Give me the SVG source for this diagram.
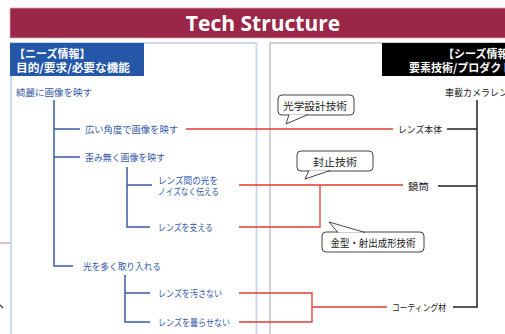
<svg xmlns="http://www.w3.org/2000/svg" width="505" height="334" viewBox="0 0 505 334">
<style>
text{font-family:"Noto Sans CJK JP","Noto Sans",sans-serif;}
.need{font-size:9.5px;fill:#3558A8;dominant-baseline:central;}
.seed{font-size:9.5px;fill:#222;dominant-baseline:central;}
.hdr{font-size:11px;font-weight:bold;fill:#fff;}
.tree{fill:none;stroke:#3A5BA6;stroke-width:1.5;}
.red{fill:none;stroke:#E53935;stroke-width:1.3;}
.blk{fill:none;stroke:#222;stroke-width:1.5;}
.call rect,.call path{fill:#fff;stroke:#444;stroke-width:1;}
.call text{font-size:10.5px;fill:#222;dominant-baseline:central;text-anchor:middle;}
</style>
<rect width="505" height="334" fill="#fff"/>
<g id="title">
<rect x="10" y="8" width="500" height="30" fill="#9A2748" stroke="#D9A9B6" stroke-width="0.8"/>
<text x="263" y="31" text-anchor="middle" style="font-family:'Open Sans','Noto Sans',sans-serif;font-size:21px;font-weight:bold;fill:#fff;">Tech Structure</text>
</g>
<g id="needs-panel">
<rect x="11" y="43" width="245.5" height="300" fill="none" stroke="#C9D8EE" stroke-width="2"/>
<rect x="10" y="43" width="134" height="33" fill="#2457A8"/>
<text class="hdr" x="14" y="58">【ニーズ情報】</text>
<text class="hdr" x="16" y="72" textLength="114" lengthAdjust="spacingAndGlyphs">目的/要求/必要な機能</text>
</g>
<g id="seeds-panel">
<rect x="270" y="43" width="250" height="300" fill="none" stroke="#D2D2D2" stroke-width="2"/>
<rect x="382" y="43" width="130" height="33" fill="#000"/>
<text class="hdr" x="443" y="58">【シーズ情報】</text>
<text class="hdr" x="409" y="72">要素技術/プロダクト</text>
</g>
<g id="connectors">
<path class="tree" d="M54 100V266H73M54 129H80M54 157H80M127 167V227H150M127 185H152M125 275V322H150M125 293H150"/>
<path class="red" d="M186 129H393M239 185H403M320 185V227H239M239 293H312V322H239M312 307H387"/>
<path class="blk" d="M447 129H477M438 186H477M453 307H477V100"/>
<path d="M0 243H10" stroke="#D88A9A" stroke-width="1.2"/>
<path d="M0 305L3 308" stroke="#333" stroke-width="1.2"/>
</g>
<g id="n-root"><text class="need" x="16" y="92" textLength="76" lengthAdjust="spacingAndGlyphs">綺麗に画像を映す</text></g>
<g id="n-wide"><text class="need" x="85" y="129" textLength="93" lengthAdjust="spacingAndGlyphs">広い角度で画像を映す</text></g>
<g id="n-nodist"><text class="need" x="85" y="157" textLength="80" lengthAdjust="spacingAndGlyphs">歪み無く画像を映す</text></g>
<g id="n-noise"><text class="need" x="158" y="180" textLength="60" lengthAdjust="spacingAndGlyphs">レンズ間の光を</text><text class="need" x="158" y="191" textLength="61" lengthAdjust="spacingAndGlyphs">ノイズなく伝える</text></g>
<g id="n-support"><text class="need" x="158" y="227" textLength="55" lengthAdjust="spacingAndGlyphs">レンズを支える</text></g>
<g id="n-light"><text class="need" x="83" y="266" textLength="78" lengthAdjust="spacingAndGlyphs">光を多く取り入れる</text></g>
<g id="n-dirt"><text class="need" x="158" y="293" textLength="64" lengthAdjust="spacingAndGlyphs">レンズを汚さない</text></g>
<g id="n-fog"><text class="need" x="158" y="322" textLength="72" lengthAdjust="spacingAndGlyphs">レンズを曇らせない</text></g>
<g id="s-camera"><text class="seed" x="445" y="92" textLength="72" lengthAdjust="spacingAndGlyphs">車載カメラレンズ</text></g>
<g id="s-body"><text class="seed" x="398" y="129" textLength="44" lengthAdjust="spacingAndGlyphs">レンズ本体</text></g>
<g id="s-barrel"><text class="seed" x="408" y="186" textLength="21" lengthAdjust="spacingAndGlyphs">鏡筒</text></g>
<g id="s-coat"><text class="seed" x="392" y="307" textLength="54" lengthAdjust="spacingAndGlyphs">コーティング材</text></g>
<g id="c-optical" class="call">
<rect x="278" y="95" width="76" height="20" rx="4"/>
<path d="M289 114.5L286 124L308 114.5"/>
<text x="315" y="105" textLength="64" lengthAdjust="spacingAndGlyphs">光学設計技術</text>
</g>
<g id="c-seal" class="call">
<rect x="297" y="151" width="76" height="20" rx="4"/>
<path d="M309 170.5L305 179L330 170.5"/>
<text x="335" y="161" textLength="44" lengthAdjust="spacingAndGlyphs">封止技術</text>
</g>
<g id="c-mold" class="call">
<rect x="322" y="232" width="102" height="20" rx="4"/>
<path d="M338 232.5L329 222L365 232.5"/>
<text x="373" y="242" textLength="85" lengthAdjust="spacingAndGlyphs">金型・射出成形技術</text>
</g>
</svg>
